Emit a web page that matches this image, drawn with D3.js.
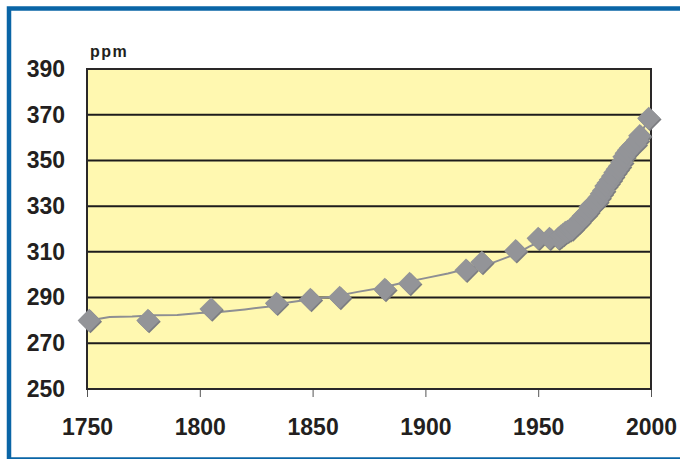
<!DOCTYPE html>
<html>
<head>
<meta charset="utf-8">
<script src="https://cdn.jsdelivr.net/npm/d3@7"></script>
<style>
  body { margin: 0; background: #fff; }
  svg { display: block; font-family: "Liberation Sans", Arial, sans-serif; }
</style>
</head>
<body>
<div id="chart"></div>
<script>
// ice core points (markers)
const coreYears = [1751, 1777, 1805, 1834, 1849, 1862, 1882, 1893, 1918, 1925, 1940, 1950, 1955];
const corePpm = [280, 280, 285, 287.5, 289.2, 290.1, 293.6, 296.2, 302, 305.4, 310.5, 315.9, 315.9];

// direct measurements (markers + line)
const directYears = [1959, 1960, 1961, 1962, 1963, 1964, 1965, 1966, 1967, 1968, 1969, 1970,
    1971, 1972, 1973, 1974, 1975, 1976, 1977, 1978, 1979, 1980, 1981, 1982, 1983, 1984,
    1985, 1986, 1987, 1988, 1989, 1990, 1991, 1992, 1993, 1994, 1995, 1999];
const directPpm = [316.0, 316.9, 317.6, 318.5, 319.0, 319.6, 320.0, 321.4, 322.2, 323.0, 324.6, 325.7,
    326.3, 327.5, 329.7, 330.2, 331.1, 332.0, 333.8, 335.4, 336.8, 338.8, 340.1, 341.5, 343.1, 344.7,
    346.1, 347.4, 349.2, 351.6, 353.1, 354.4, 355.6, 356.5, 357.1, 358.8, 360.8, 368.4];

// smoothed record before 1959 (line only)
const smoothYears = [1751, 1760, 1770, 1780, 1790, 1800, 1810, 1820, 1830, 1840, 1850, 1860,
    1870, 1880, 1890, 1900, 1910, 1920, 1930, 1940, 1946, 1950, 1955];
const smoothPpm = [280, 281.5, 281.7, 282.3, 282.4, 283.3, 283.8, 284.8, 286, 288, 289.4, 290.6,
    292.5, 294.2, 296.5, 298.5, 300.5, 303, 305.3, 309, 312.3, 314.2, 315.3];

const xTicks = [1750, 1800, 1850, 1900, 1950, 2000];
const yTicks = [250, 270, 290, 310, 330, 350, 370, 390];

const width = 680, height = 459;
const margin = { top: 69, right: 29, bottom: 70, left: 87 };
const innerW = width - margin.left - margin.right;
const innerH = height - margin.top - margin.bottom;

const svg = d3.select("#chart").append("svg")
    .attr("width", width)
    .attr("height", height);

// blue frame, right side runs off the picture
svg.append("rect")
    .attr("x", 9).attr("y", 8.5)
    .attr("width", 700).attr("height", 451)
    .attr("fill", "none")
    .attr("stroke", "#0a65a6")
    .attr("stroke-width", 4.5);

const g = svg.append("g").attr("transform", `translate(${margin.left},${margin.top})`);

const x = d3.scaleLinear().domain([1750, 2000]).range([0, innerW]);
const y = d3.scaleLinear().domain([250, 390]).range([innerH, 0]);

g.append("rect")
    .attr("width", innerW).attr("height", innerH)
    .attr("fill", "#fff8b0");

// horizontal gridlines
g.selectAll(".grid")
    .data(yTicks.slice(1, -1))
    .enter().append("line")
    .attr("x1", 0).attr("x2", innerW)
    .attr("y1", d => y(d)).attr("y2", d => y(d))
    .attr("stroke", "#1e1c1c")
    .attr("stroke-width", 2);

const yAxis = g.append("g")
    .call(d3.axisLeft(y).tickValues(yTicks).tickSize(0).tickPadding(22).tickFormat(d3.format("d")));
yAxis.select(".domain").remove();
yAxis.selectAll("text")
    .attr("fill", "#231f20")
    .style("font-size", "23px")
    .style("font-weight", "bold");

const xAxis = g.append("g")
    .attr("transform", `translate(0,${innerH})`)
    .call(d3.axisBottom(x).tickValues(xTicks).tickSize(8).tickPadding(21.5).tickFormat(d3.format("d")));
xAxis.select(".domain").remove();
xAxis.selectAll("line").attr("stroke", "#555").attr("stroke-width", 1);
xAxis.selectAll("text")
    .attr("fill", "#231f20")
    .style("font-size", "23px")
    .style("font-weight", "bold");

// plot border
g.append("rect")
    .attr("width", innerW).attr("height", innerH)
    .attr("fill", "none")
    .attr("stroke", "#2a2828")
    .attr("stroke-width", 2);

g.append("text")
    .attr("x", 3).attr("y", -12)
    .attr("fill", "#231f20")
    .style("font-size", "16px")
    .style("font-weight", "bold")
    .style("letter-spacing", "1.5px")
    .text("ppm");

// line
const lineData = smoothYears.map((d, i) => [d, smoothPpm[i]])
    .concat(directYears.map((d, i) => [d, directPpm[i]]));

g.append("path")
    .datum(lineData)
    .attr("fill", "none")
    .attr("stroke", "#8e8f93")
    .attr("stroke-width", 2)
    .attr("d", d3.line().x(d => x(d[0])).y(d => y(d[1])));

// markers
const markerData = coreYears.map((d, i) => [d, corePpm[i]])
    .concat(directYears.map((d, i) => [d, directPpm[i]]));

const sym = d3.symbol().type(d3.symbolSquare).size(270);

g.selectAll(".shadow")
    .data(markerData)
    .enter().append("path")
    .attr("d", sym)
    .attr("transform", d => `translate(${x(d[0]) + 1.2},${y(d[1]) + 1.2}) rotate(45)`)
    .attr("fill", "#7c7d81");

g.selectAll(".marker")
    .data(markerData)
    .enter().append("path")
    .attr("d", sym)
    .attr("transform", d => `translate(${x(d[0])},${y(d[1])}) rotate(45)`)
    .attr("fill", "#939498");
</script>
</body>
</html>
